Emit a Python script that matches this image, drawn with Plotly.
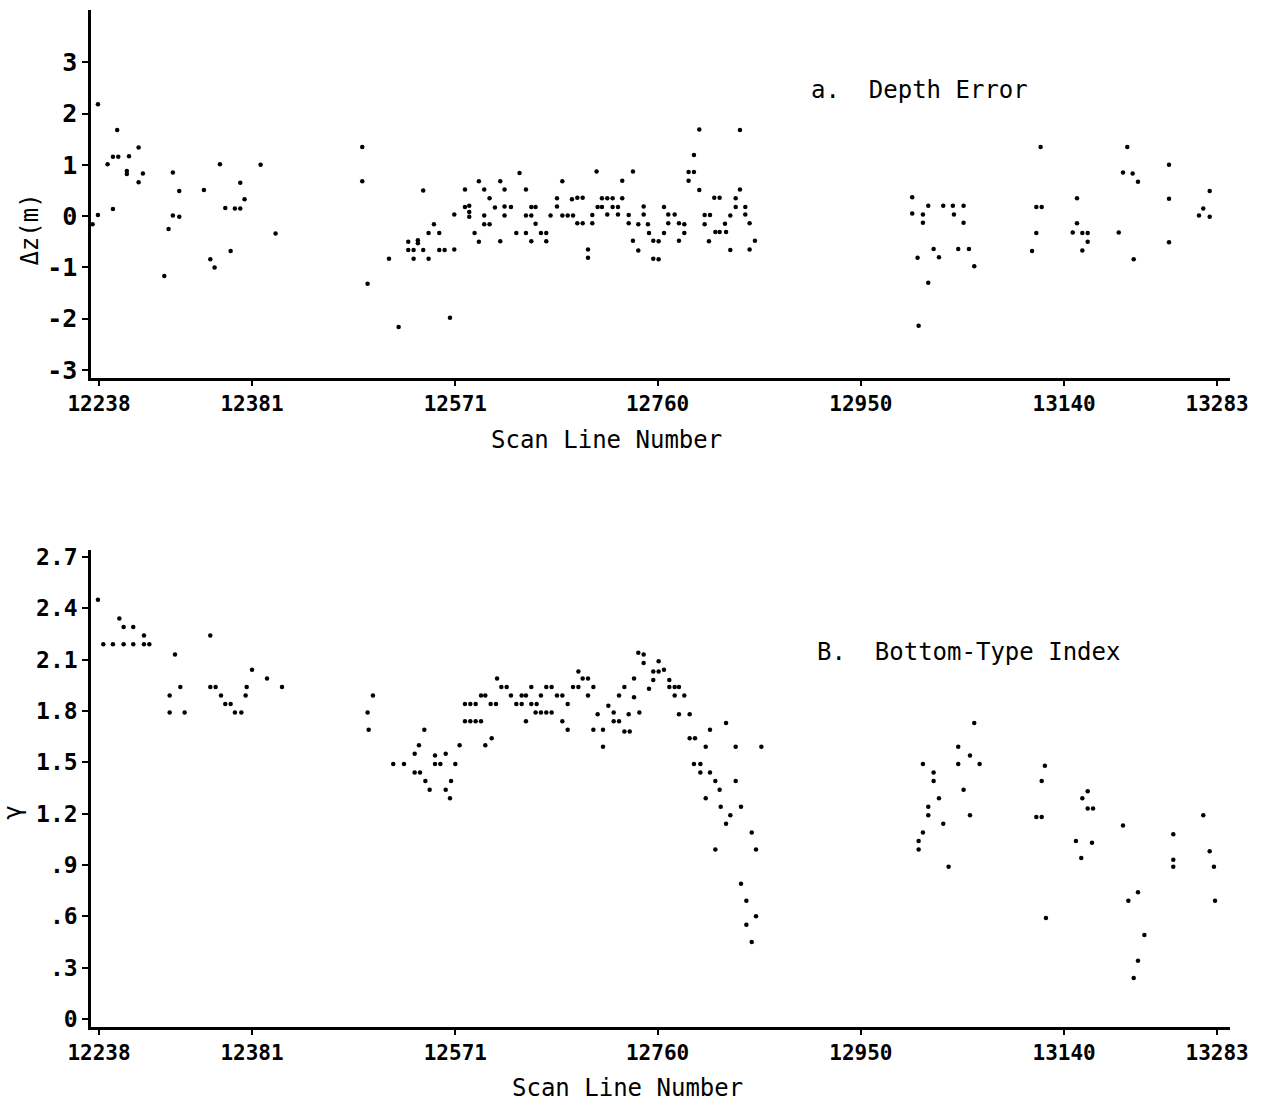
import plotly.graph_objects as go

# ---------------- data ----------------
# Panel a: depth error (m) vs scan line number
depth_scan = [
    12232, 12237, 12237, 12246, 12251, 12251, 12255, 12256, 12264, 12264,
    12266, 12275, 12275, 12279, 12299, 12303, 12307, 12307, 12313, 12313,
    12336, 12342, 12346, 12351, 12356, 12361, 12365, 12370, 12370, 12374,
    12389, 12403, 12484, 12484, 12489, 12509, 12518, 12527, 12527, 12532,
    12532, 12536, 12536, 12541, 12541, 12546, 12546, 12551, 12556, 12556,
    12561, 12566, 12570, 12570, 12580, 12580, 12584, 12584, 12584, 12589,
    12593, 12593, 12598, 12598, 12598, 12603, 12603, 12608, 12613, 12613,
    12617, 12617, 12617, 12623, 12628, 12631, 12637, 12637, 12637, 12642,
    12642, 12642, 12646, 12646, 12651, 12656, 12656, 12660, 12666, 12666,
    12671, 12671, 12676, 12680, 12681, 12685, 12685, 12690, 12690, 12695,
    12695, 12699, 12699, 12703, 12704, 12708, 12708, 12713, 12713, 12718,
    12718, 12723, 12723, 12727, 12727, 12733, 12733, 12737, 12737, 12742,
    12742, 12747, 12747, 12751, 12752, 12756, 12756, 12761, 12761, 12766,
    12766, 12770, 12770, 12776, 12780, 12780, 12785, 12785, 12789, 12789,
    12794, 12794, 12799, 12799, 12804, 12804, 12808, 12809, 12813, 12814,
    12818, 12818, 12823, 12824, 12828, 12828, 12833, 12833, 12837, 12837,
    12842, 12842, 12846, 12846, 12851, 12998, 12998, 13003, 13004, 13008,
    13008, 13013, 13013, 13018, 13023, 13027, 13036, 13037, 13041, 13046,
    13046, 13051, 13056, 13110, 13114, 13114, 13118, 13119, 13148, 13152,
    13152, 13157, 13157, 13162, 13162, 13191, 13195, 13199, 13204, 13205,
    13209, 13238, 13238, 13238, 13266, 13270, 13276, 13276,
]
depth_error = [
    -0.16, 2.18, 0.02, 1.01, 1.16, 0.14, 1.68, 1.16, 0.88, 0.82,
    1.17, 1.34, 0.66, 0.83, -1.17, -0.25, 0.85, 0.01, 0.49, -0.01,
    0.51, -0.84, -1.00, 1.01, 0.16, -0.68, 0.15, 0.65, 0.15, 0.33,
    1.00, -0.34, 1.35, 0.68, -1.32, -0.83, -2.16, -0.50, -0.66, -0.66,
    -0.83, -0.47, -0.53, 0.50, -0.66, -0.33, -0.83, -0.16, -0.33, -0.66,
    -0.66, -1.98, 0.03, -0.65, 0.52, 0.18, 0.20, 0.08, -0.01, -0.33,
    0.68, -0.50, 0.52, 0.01, -0.16, 0.35, -0.16, 0.17, 0.68, -0.49,
    0.52, 0.19, 0.01, 0.18, -0.33, 0.84, 0.52, 0.01, -0.33, 0.01,
    0.18, -0.49, 0.18, -0.15, -0.33, -0.33, -0.49, 0.01, 0.35, 0.19,
    0.68, 0.01, 0.01, 0.33, 0.01, 0.36, -0.14, 0.36, -0.14, -0.65,
    -0.81, 0.02, -0.14, 0.87, 0.18, 0.35, 0.18, 0.35, 0.03, 0.35,
    0.18, 0.18, 0.03, 0.69, 0.35, 0.02, -0.14, 0.87, -0.48, -0.16,
    -0.67, 0.19, 0.03, -0.16, -0.33, -0.48, -0.83, -0.49, -0.84, 0.18,
    -0.33, 0.03, -0.14, 0.03, -0.14, -0.48, -0.16, -0.33, 0.86, 0.69,
    1.19, 0.86, 1.69, 0.51, -0.16, 0.02, -0.49, 0.02, 0.36, -0.31,
    0.36, -0.31, -0.15, -0.31, 0.01, -0.66, 0.35, 0.18, 1.68, 0.52,
    0.18, 0.03, -0.14, -0.65, -0.48, 0.37, 0.05, -0.81, -2.14, 0.03,
    -0.13, 0.20, -1.30, -0.64, -0.80, 0.20, 0.20, 0.03, -0.64, 0.20,
    -0.13, -0.64, -0.98, -0.68, 0.18, -0.33, 1.35, 0.18, -0.32, 0.35,
    -0.14, -0.33, -0.67, -0.33, -0.50, -0.32, 0.85, 1.35, 0.83, -0.84,
    0.67, 1.00, 0.34, -0.51, 0.01, 0.15, 0.49, -0.01,
]

# Panel B: bottom-type index (gamma) vs scan line number
gamma_scan = [
    12237, 12242, 12251, 12257, 12261, 12261, 12270, 12270, 12280, 12280,
    12285, 12304, 12304, 12309, 12314, 12318, 12342, 12342, 12347, 12352,
    12356, 12361, 12365, 12371, 12376, 12375, 12381, 12395, 12409, 12489,
    12490, 12494, 12513, 12523, 12533, 12533, 12538, 12537, 12542, 12543,
    12547, 12552, 12552, 12557, 12562, 12562, 12567, 12566, 12571, 12575,
    12580, 12585, 12590, 12580, 12585, 12590, 12595, 12595, 12599, 12599,
    12604, 12609, 12605, 12610, 12614, 12619, 12623, 12628, 12633, 12633,
    12637, 12637, 12642, 12642, 12647, 12646, 12651, 12656, 12661, 12651,
    12656, 12661, 12666, 12671, 12671, 12676, 12676, 12681, 12686, 12686,
    12690, 12695, 12695, 12700, 12700, 12704, 12709, 12709, 12714, 12719,
    12719, 12724, 12724, 12729, 12729, 12734, 12733, 12738, 12738, 12742,
    12747, 12747, 12743, 12752, 12756, 12756, 12761, 12761, 12766, 12771,
    12771, 12776, 12780, 12776, 12785, 12780, 12790, 12790, 12795, 12794,
    12800, 12800, 12805, 12805, 12809, 12809, 12814, 12814, 12818, 12819,
    12824, 12824, 12828, 12833, 12833, 12838, 12838, 12843, 12843, 12848,
    12848, 12852, 12852, 12857, 13004, 13004, 13008, 13008, 13013, 13013,
    13018, 13018, 13023, 13027, 13032, 13041, 13041, 13046, 13052, 13052,
    13056, 13061, 13114, 13119, 13119, 13122, 13123, 13151, 13156, 13157,
    13162, 13162, 13167, 13166, 13195, 13200, 13209, 13215, 13209, 13205,
    13242, 13242, 13242, 13270, 13276, 13280, 13281,
]
gamma_index = [
    2.45, 2.19, 2.19, 2.34, 2.29, 2.19, 2.29, 2.19, 2.24, 2.19,
    2.19, 1.89, 1.79, 2.13, 1.94, 1.79, 2.24, 1.94, 1.94, 1.89,
    1.84, 1.84, 1.79, 1.79, 1.94, 1.89, 2.04, 1.99, 1.94, 1.79,
    1.69, 1.89, 1.49, 1.49, 1.55, 1.44, 1.44, 1.60, 1.69, 1.39,
    1.34, 1.54, 1.49, 1.49, 1.55, 1.34, 1.39, 1.29, 1.49, 1.60,
    1.84, 1.84, 1.84, 1.74, 1.74, 1.74, 1.74, 1.89, 1.89, 1.60,
    1.84, 1.84, 1.64, 1.99, 1.94, 1.94, 1.89, 1.84, 1.84, 1.89,
    1.89, 1.74, 1.94, 1.84, 1.84, 1.79, 1.79, 1.79, 1.79, 1.89,
    1.94, 1.94, 1.89, 1.89, 1.74, 1.84, 1.69, 1.94, 1.94, 2.03,
    1.99, 1.99, 1.89, 1.94, 1.69, 1.78, 1.69, 1.59, 1.83, 1.79,
    1.74, 1.74, 1.89, 1.94, 1.68, 1.68, 1.78, 1.99, 1.88, 2.14,
    2.13, 2.08, 1.79, 1.93, 1.98, 2.03, 2.09, 2.03, 2.04, 1.98,
    1.94, 1.94, 1.94, 1.89, 1.89, 1.78, 1.78, 1.64, 1.64, 1.49,
    1.49, 1.44, 1.59, 1.29, 1.44, 1.69, 1.39, 0.99, 1.34, 1.24,
    1.73, 1.14, 1.19, 1.59, 1.39, 1.24, 0.79, 0.69, 0.55, 1.09,
    0.45, 0.99, 0.60, 1.59, 1.04, 0.99, 1.49, 1.09, 1.24, 1.19,
    1.44, 1.39, 1.29, 1.14, 0.89, 1.59, 1.49, 1.34, 1.54, 1.19,
    1.73, 1.49, 1.18, 1.18, 1.39, 1.48, 0.59, 1.04, 0.94, 1.29,
    1.33, 1.23, 1.23, 1.03, 1.13, 0.69, 0.74, 0.49, 0.34, 0.24,
    1.08, 0.93, 0.89, 1.19, 0.98, 0.89, 0.69,
]

scan_ticks = [12238, 12381, 12571, 12760, 12950, 13140, 13283]
depth_ticks = [-3, -2, -1, 0, 1, 2, 3]
depth_tick_text = ["-3", "-2", "-1", "0", "1", "2", "3"]
gamma_ticks = [0, 0.3, 0.6, 0.9, 1.2, 1.5, 1.8, 2.1, 2.4, 2.7]
gamma_tick_text = ["0", ".3", ".6", ".9", "1.2", "1.5", "1.8", "2.1", "2.4", "2.7"]

# ---------------- figure ----------------
FONT = "DejaVu Sans Mono"
marker = dict(size=4.5, color="black", symbol="circle")

fig = go.Figure()
fig.add_trace(go.Scatter(x=depth_scan, y=depth_error, mode="markers",
                         marker=marker, xaxis="x", yaxis="y", showlegend=False))
fig.add_trace(go.Scatter(x=gamma_scan, y=gamma_index, mode="markers",
                         marker=marker, xaxis="x2", yaxis="y2", showlegend=False))

xcommon = dict(range=[12230.5, 13295], tickvals=scan_ticks,
               ticktext=[str(t) for t in scan_ticks],
               showline=True, linecolor="black", linewidth=2.5,
               ticks="outside", ticklen=5, tickwidth=2, tickcolor="black",
               showgrid=False, zeroline=False,
               tickfont=dict(family=FONT, size=21, color="black", weight="bold"))
ycommon = dict(showline=True, linecolor="black", linewidth=2.5,
               ticks="outside", ticklen=6, tickwidth=2, tickcolor="black",
               showgrid=False, zeroline=False)

fig.update_layout(
    width=1264, height=1107,
    paper_bgcolor="white", plot_bgcolor="white",
    margin=dict(l=91, r=34, t=10, b=80, autoexpand=False),
    font=dict(family=FONT, color="black"),
    xaxis=dict(domain=[0, 1], anchor="y", **xcommon),
    yaxis=dict(domain=[0.638, 1], anchor="x", range=[-3.16, 4.02],
               tickvals=depth_ticks, ticktext=depth_tick_text,
               tickfont=dict(family=FONT, size=25, color="black", weight="bold"),
               **ycommon),
    xaxis2=dict(domain=[0, 1], anchor="y2", **xcommon),
    yaxis2=dict(domain=[0, 0.469], anchor="x2", range=[-0.047, 2.74],
                tickvals=gamma_ticks, ticktext=gamma_tick_text,
                tickfont=dict(family=FONT, size=23, color="black", weight="bold"),
                **ycommon),
)

ann_font = dict(family=FONT, size=24, color="black")
annotations = [
    dict(text="a.\u00a0\u00a0Depth Error", x=0.727, y=0.921),
    dict(text="B.\u00a0\u00a0Bottom-Type Index", x=0.770, y=0.369),
    dict(text="Scan Line Number", x=0.453, y=0.577),
    dict(text="Scan Line Number", x=0.471, y=-0.060),
    dict(text="\u0394z(m)", x=-0.0536, y=0.784, textangle=-90),
    dict(text="\u03b3", x=-0.0685, y=0.211, textangle=-90),
]
for a in annotations:
    fig.add_annotation(xref="paper", yref="paper", showarrow=False,
                       xanchor="center", yanchor="middle", font=ann_font, **a)

fig.write_html("out.html",
               config={"displayModeBar": False},
               post_script="document.body.style.margin='0';document.body.style.padding='0';")
